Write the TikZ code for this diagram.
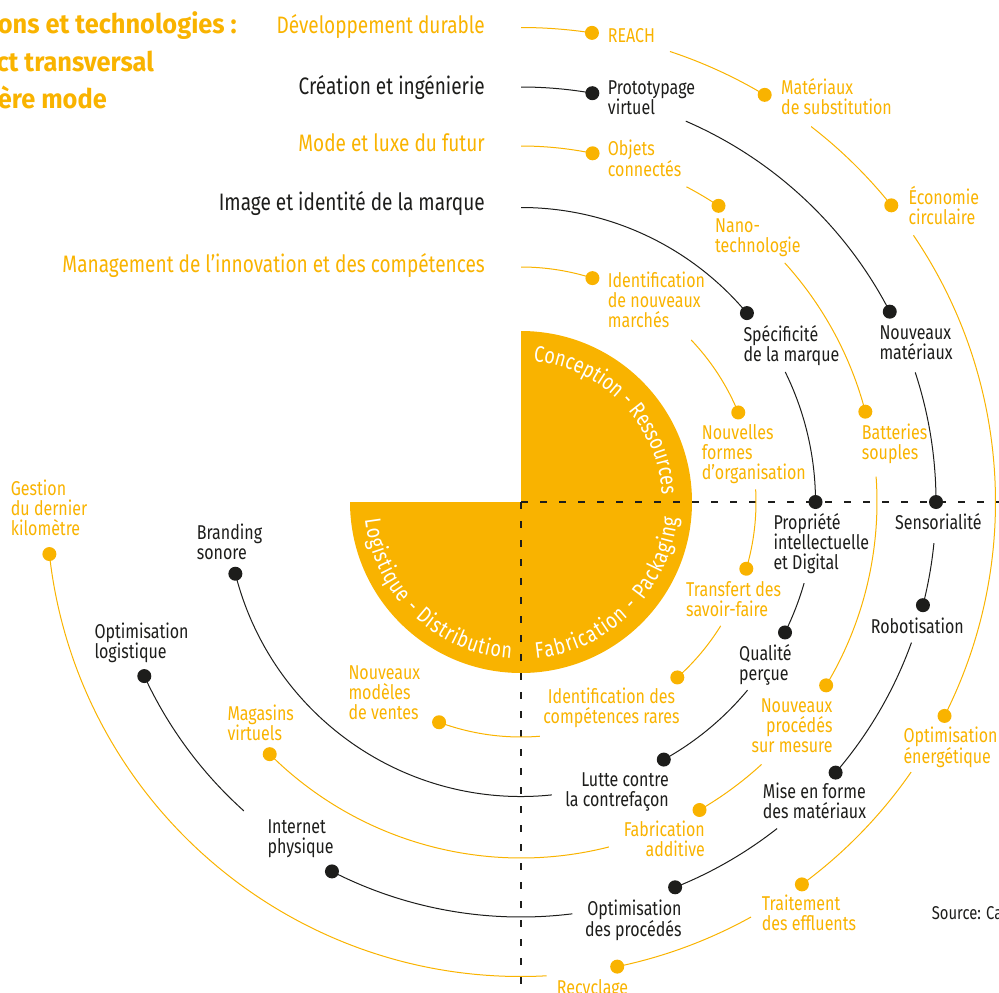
\documentclass[tikz,border=0pt]{standalone}
\usepackage{fontspec}
\setmainfont{Fira Sans}[FakeStretch=0.80]
\newfontfamily\ttlfont{Fira Sans}[FakeStretch=0.94]
\usetikzlibrary{decorations.text}
\definecolor{yel}{RGB}{249,179,0}
\definecolor{blk}{RGB}{29,29,27}
\newcommand{\mlL}[1]{\vtop{\let\\\cr\halign{##\hfil\cr#1\crcr}}}
\newcommand{\mlR}[1]{\vtop{\let\\\cr\halign{\hfil##\cr#1\crcr}}}
\newcommand{\mlC}[1]{\vtop{\let\\\cr\halign{\hfil##\hfil\cr#1\crcr}}}
\newcommand{\pietext}{\fontsize{22.5}{22.5}\selectfont}
\newcommand{\arcseg}[4]{\draw[#1] (C) ++(#3:#2pt) arc[start angle=#3, end angle=#4, radius=#2pt];}
\tikzset{
  lab/.style={inner sep=0pt, font=\fontsize{20}{20}\selectfont},
  ylab/.style={lab, text=yel},
  klab/.style={lab, text=blk},
  head/.style={inner sep=0pt, font=\fontsize{23.8}{23.8}\selectfont, anchor=base east},
  ttl/.style={inner sep=0pt, font=\ttlfont\fontsize{27}{37}\selectfont\bfseries, text=yel, anchor=base east},
  ydot/.style={circle, fill=yel, inner sep=0pt, minimum size=14pt},
  kdot/.style={circle, fill=blk, inner sep=0pt, minimum size=14pt},
  yarc/.style={draw=yel, line width=1pt},
  karc/.style={draw=blk, line width=1pt},
  dashln/.style={draw=blk, line width=1.2pt, dash pattern=on 7pt off 12pt},
}
\begin{document}
\begin{tikzpicture}[x=1pt,y=1pt]
\useasboundingbox (0,0) rectangle (999,-993);
\clip (0,0) rectangle (999,-993);
\coordinate (C) at (521,-502);
\coordinate (E) at (999,-502);
\coordinate (S) at (521,-993);

% central three-quarter disc
\fill[yel] (C) -- ++(90:171pt) arc[start angle=90, end angle=-180, radius=171pt] -- cycle;
\draw[dashln] (C) -- (E);
\draw[dashln] (C) -- (S);

\path[decorate, decoration={text along path, text align={fit to path}, text color=white,
  text={|\pietext|Conception - Ressources}}]
  (C) ++(85:141pt) arc[start angle=85, end angle=3.6, radius=141pt];
\path[decorate, decoration={text along path, text align={fit to path}, text color=white,
  text={|\pietext|Fabrication - Packaging}}]
  (C) ++(-84.6:157pt) arc[start angle=-84.6, end angle=-5.8, radius=157pt];
\path[decorate, decoration={text along path, text align={fit to path}, text color=white,
  text={|\pietext|Logistique - Distribution}}]
  (C) ++(186.5:157pt) arc[start angle=186.5, end angle=266.4, radius=157pt];

% circle 1 : developpement durable
\arcseg{yarc}{474.5}{90}{81.4}
\arcseg{yarc}{474.5}{71.7}{59.1}
\arcseg{yarc}{474.5}{52.3}{38.7}
\arcseg{yarc}{474.5}{34.2}{-26.8}
\arcseg{yarc}{474.5}{-34.7}{-53.7}
\arcseg{yarc}{474.5}{-61}{-78.3}
\arcseg{yarc}{474.5}{-86.9}{-173.7}
% circle 2 : creation et ingenierie
\arcseg{karc}{415}{90}{80.1}
\arcseg{karc}{415}{66.6}{27.3}
\arcseg{karc}{415}{18.2}{0}
\arcseg{karc}{415}{-5.7}{-14.4}
\arcseg{karc}{415}{-19.8}{-40.7}
\arcseg{karc}{415}{-51.9}{-68.2}
\arcseg{karc}{415}{-82.9}{-117.1}
\arcseg{karc}{415}{-131.9}{-155.2}
% circle 3 : mode et luxe du futur
\arcseg{yarc}{356}{90}{78.4}
\arcseg{yarc}{356}{62.3}{56.3}
\arcseg{yarc}{356}{42.2}{14.7}
\arcseg{yarc}{356}{4.1}{-31}
\arcseg{yarc}{356}{-47.5}{-59.9}
\arcseg{yarc}{356}{-75.7}{-134.9}
% circle 4 : image et identite de la marque
\arcseg{karc}{294.5}{90}{39.9}
\arcseg{karc}{294.5}{26.2}{0}
\arcseg{karc}{294.5}{-16}{-26.3}
\arcseg{karc}{294.5}{-39.7}{-61}
\arcseg{karc}{294.5}{-84}{-165.9}
% circle 5 : management
\arcseg{yarc}{235}{90}{72.3}
\arcseg{yarc}{235}{43.6}{22.4}
\arcseg{yarc}{235}{3.1}{-16.5}
\arcseg{yarc}{235}{-31.8}{-48.3}
\arcseg{yarc}{235}{-85.4}{-110.4}

% dots
\path (C) ++(81.4:474.5pt) node[ydot] (d1a) {};
\path (C) ++(59.1:474.5pt) node[ydot] (d1b) {};
\path (C) ++(38.7:474.5pt) node[ydot] (d1c) {};
\path (C) ++(-26.8:474.5pt) node[ydot] (d1d) {};
\path (C) ++(-53.7:474.5pt) node[ydot] (d1e) {};
\path (C) ++(-78.3:474.5pt) node[ydot] (d1f) {};
\path (C) ++(-173.7:474.5pt) node[ydot] (d1g) {};
\path (C) ++(80.1:415pt) node[kdot] (d2a) {};
\path (C) ++(27.3:415pt) node[kdot] (d2b) {};
\path (C) ++(0:415pt) node[kdot] (d2c) {};
\path (C) ++(-14.4:415pt) node[kdot] (d2d) {};
\path (C) ++(-40.7:415pt) node[kdot] (d2e) {};
\path (C) ++(-68.2:415pt) node[kdot] (d2f) {};
\path (C) ++(-117.1:415pt) node[kdot] (d2g) {};
\path (C) ++(-155.2:415pt) node[kdot] (d2h) {};
\path (C) ++(78.4:356pt) node[ydot] (d3a) {};
\path (C) ++(56.3:356pt) node[ydot] (d3b) {};
\path (C) ++(14.7:356pt) node[ydot] (d3c) {};
\path (C) ++(-31:356pt) node[ydot] (d3d) {};
\path (C) ++(-59.9:356pt) node[ydot] (d3e) {};
\path (C) ++(-134.9:356pt) node[ydot] (d3f) {};
\path (C) ++(39.9:294.5pt) node[kdot] (d4a) {};
\path (C) ++(0:294.5pt) node[kdot] (d4b) {};
\path (C) ++(-26.3:294.5pt) node[kdot] (d4c) {};
\path (C) ++(-61:294.5pt) node[kdot] (d4d) {};
\path (C) ++(-165.9:294.5pt) node[kdot] (d4e) {};
\path (C) ++(72.3:235pt) node[ydot] (d5a) {};
\path (C) ++(22.4:235pt) node[ydot] (d5b) {};
\path (C) ++(-16.5:235pt) node[ydot] (d5c) {};
\path (C) ++(-48.3:235pt) node[ydot] (d5d) {};
\path (C) ++(-110.4:235pt) node[ydot] (d5e) {};

% title fragments
\node[ttl] (t1) at (237,-33.5) {ons et technologies :};
\node[ttl] (t2) at (154,-71.7) {ct transversal};
\node[ttl] (t3) at (107,-108) {ère mode};

% headers
\node[head, text=yel] (h1) at (485,-34) {Développement durable};
\node[head, text=blk] (h2) at (485,-94) {Création et ingénierie};
\node[head, text=yel] (h3) at (485,-151) {Mode et luxe du futur};
\node[head, text=blk] (h4) at (485,-210) {Image et identité de la marque};
\node[head, text=yel] (h5) at (485,-272) {Management de l’innovation et des compétences};

% yellow labels
\node[ylab, anchor=base west] (l1a) at (607.7,-42.7) {REACH};
\node[ylab, anchor=base west] (l1b) at (781,-94) {\mlL{Matériaux\\de substitution}};
\node[ylab, anchor=base west] (l1c) at (908.3,-204) {\mlL{Économie\\circulaire}};
\node[ylab, anchor=base west] (l1d) at (903.3,-742.7) {\mlL{Optimisation\\énergétique}};
\node[ylab, anchor=base west] (l1e) at (761.7,-910.7) {\mlL{Traitement\\des effluents}};
\node[ylab, anchor=base west] (l1f) at (556.7,-994) {Recyclage};
\node[ylab, anchor=base west] (l1g) at (10.7,-495) {\mlL{Gestion\\du dernier\\kilomètre}};
\node[ylab, anchor=base west] (l3a) at (607.7,-155) {\mlL{Objets\\connectés}};
\node[ylab, anchor=base west] (l3b) at (715,-232.7) {\mlL{Nano-\\technologie}};
\node[ylab, anchor=base west] (l3c) at (861.7,-439.3) {\mlL{Batteries\\souples}};
\node[ylab, anchor=base east] (l3d) at (832.7,-712.7) {\mlR{Nouveaux\\procédés\\sur mesure}};
\node[ylab, anchor=base east] (l3e) at (705,-836.7) {\mlR{Fabrication\\additive}};
\node[ylab, anchor=base west] (l3f) at (227.3,-720) {\mlL{Magasins\\virtuels}};
\node[ylab, anchor=base west] (l5a) at (607.7,-287) {\mlL{Identification\\de nouveaux\\marchés}};
\node[ylab, anchor=base west] (l5b) at (701.7,-439.3) {\mlL{Nouvelles\\formes\\d’organisation}};
\node[ylab, anchor=base west] (l5c) at (686,-596) {\mlL{Transfert des\\savoir-faire}};
\node[ylab, anchor=base] (l5d) at (611.5,-703.3) {\mlC{Identification des\\compétences rares}};
\node[ylab, anchor=base west] (l5e) at (348.3,-679.3) {\mlL{Nouveaux\\modèles\\de ventes}};

% black labels
\node[klab, anchor=base west] (l2a) at (607.7,-94) {\mlL{Prototypage\\virtuel}};
\node[klab, anchor=base west] (l2b) at (879.3,-339.3) {\mlL{Nouveaux\\matériaux}};
\node[klab, anchor=base west] (l2c) at (895,-529) {Sensorialité};
\node[klab, anchor=base west] (l2d) at (870.7,-633.3) {Robotisation};
\node[klab, anchor=base west] (l2e) at (762.7,-798.3) {\mlL{Mise en forme\\des matériaux}};
\node[klab, anchor=base east] (l2f) at (681.7,-915) {\mlR{Optimisation\\des procédés}};
\node[klab, anchor=base west] (l2g) at (267.3,-833.3) {\mlL{Internet\\physique}};
\node[klab, anchor=base west] (l2h) at (94.3,-638.3) {\mlL{Optimisation\\logistique}};
\node[klab, anchor=base west] (l4a) at (743.3,-341.7) {\mlL{Spécificité\\de la marque}};
\node[klab, anchor=base west] (l4b) at (773.3,-529) {\mlL{Propriété\\intellectuelle\\et Digital}};
\node[klab, anchor=base west] (l4c) at (739,-660) {\mlL{Qualité\\perçue}};
\node[klab, anchor=base east] (l4d) at (669,-786) {\mlR{Lutte contre\\la contrefaçon}};
\node[klab, anchor=base west] (l4e) at (196.7,-539.3) {\mlL{Branding\\sonore}};

\node[inner sep=0pt, anchor=base west, text=blk, font=\fontsize{18.5}{18.5}\selectfont] (src) at (931.7,-919.3) {Source: Ca};
\end{tikzpicture}
\end{document}
